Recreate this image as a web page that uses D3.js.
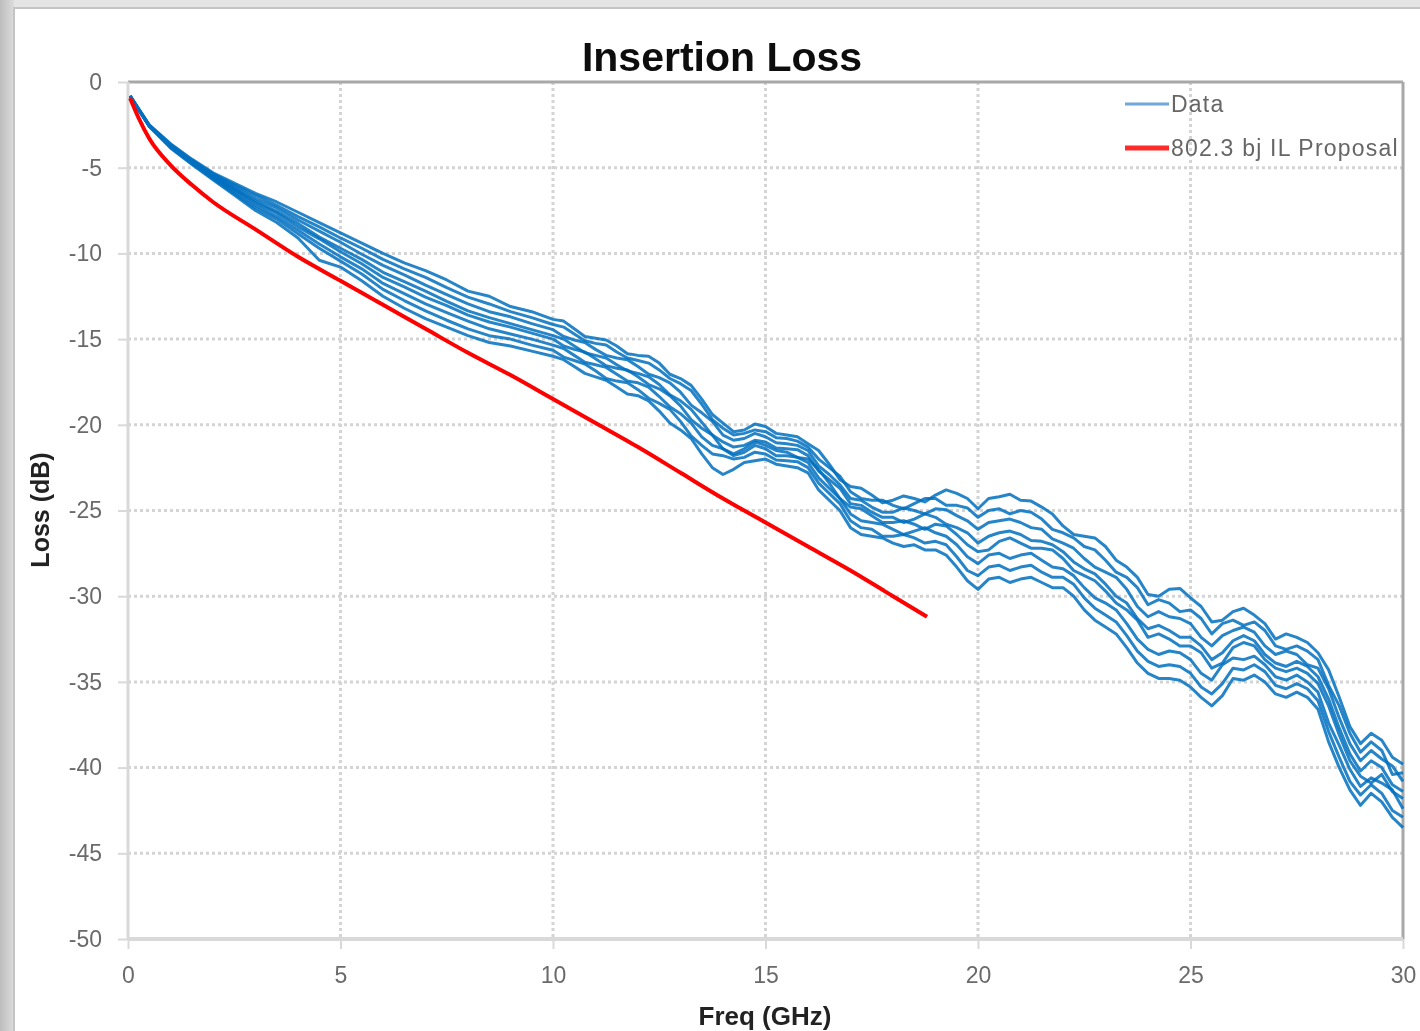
<!DOCTYPE html>
<html><head><meta charset="utf-8">
<script src="https://cdn.jsdelivr.net/npm/d3@7"></script>
<style>
html,body{margin:0;padding:0;background:#d6d6d6;overflow:hidden}
svg{display:block}
</style></head><body>
<svg id="c" width="1420" height="1031"></svg>
<script>
// ---- data ----
const xTicks = [0, 5, 10, 15, 20, 25, 30];
const yTicks = [0, -5, -10, -15, -20, -25, -30, -35, -40, -45, -50];
const seriesNames = ["Data", "802.3 bj IL Proposal"];

const freq = [0.05,0.5,1,1.5,2,2.5,3,3.5,4,4.5,5,5.5,6,6.5,7,7.5,8,8.5,9,9.5,10,
  10.25,10.5,10.75,11,11.25,11.5,11.75,12,12.25,12.5,12.75,13,13.25,13.5,13.75,14,14.25,14.5,14.75,15,
  15.25,15.5,15.75,16,16.25,16.5,16.75,17,17.25,17.5,17.75,18,18.25,18.5,18.75,19,19.25,19.5,19.75,20,
  20.25,20.5,20.75,21,21.25,21.5,21.75,22,22.25,22.5,22.75,23,23.25,23.5,23.75,24,24.25,24.5,24.75,25,
  25.25,25.5,25.75,26,26.25,26.5,26.75,27,27.25,27.5,27.75,28,28.25,28.5,28.75,29,29.25,29.5,29.75,30];

const dataA = [-0.80,-2.50,-3.60,-4.50,-5.30,-5.90,-6.50,-7.00,-7.60,-8.20,-8.80,-9.40,-10.00,-10.55,-11.00,-11.55,-12.20,-12.50,-13.10,-13.40,-13.85,
  -13.95,-14.40,-14.85,-14.95,-15.05,-15.40,-15.85,-15.95,-16.00,-16.40,-17.05,-17.30,-17.70,-18.50,-19.40,-19.90,-20.40,-20.30,-19.95,-20.10,
  -20.50,-20.60,-20.70,-21.10,-21.50,-22.30,-23.20,-23.60,-23.70,-24.10,-24.55,-24.40,-24.15,-24.30,-24.50,-24.10,-23.80,-24.00,-24.30,-24.90,
  -24.30,-24.20,-24.05,-24.40,-24.45,-24.80,-25.20,-25.90,-26.40,-26.50,-26.60,-27.10,-27.90,-28.30,-28.90,-29.90,-30.00,-29.60,-29.55,-30.10,
  -30.60,-31.50,-31.40,-30.90,-30.70,-31.10,-31.60,-32.50,-32.20,-32.40,-32.70,-33.30,-34.30,-35.90,-37.60,-38.60,-38.00,-38.40,-39.40,-39.80];
const dataB = [-0.80,-2.52,-3.64,-4.55,-5.36,-6.00,-6.62,-7.20,-7.85,-8.45,-9.10,-9.70,-10.35,-10.90,-11.40,-12.00,-12.55,-12.95,-13.40,-13.75,-14.15,
  -14.30,-14.70,-15.10,-15.25,-15.35,-15.75,-16.10,-16.25,-16.40,-16.80,-17.30,-17.60,-18.00,-18.80,-19.70,-20.20,-20.60,-20.50,-20.30,-20.40,
  -20.75,-20.80,-20.95,-21.30,-22.00,-22.50,-23.00,-23.90,-24.30,-24.40,-24.40,-24.70,-24.90,-24.60,-24.30,-24.30,-24.70,-24.70,-24.85,-25.40,
  -25.00,-24.90,-25.20,-25.00,-25.10,-25.50,-26.10,-26.30,-26.60,-27.10,-27.30,-27.90,-28.60,-28.90,-29.50,-30.50,-30.20,-30.40,-30.90,-30.80,
  -31.30,-32.20,-31.60,-31.40,-31.70,-31.50,-32.00,-32.90,-33.10,-32.90,-33.20,-33.70,-35.20,-36.40,-38.00,-39.10,-38.50,-39.00,-40.40,-40.30];
const dataC = [-0.82,-2.53,-3.68,-4.59,-5.42,-6.11,-6.80,-7.35,-8.05,-8.70,-9.35,-10.05,-10.70,-11.25,-11.85,-12.40,-12.95,-13.40,-13.70,-14.10,-14.45,
  -14.85,-15.05,-15.20,-15.60,-15.95,-16.10,-16.20,-16.60,-17.05,-17.25,-17.55,-18.10,-18.85,-19.30,-19.80,-20.60,-20.90,-20.80,-20.50,-20.70,
  -21.05,-21.10,-21.20,-21.50,-22.40,-22.90,-23.50,-24.30,-24.40,-24.80,-25.10,-25.10,-24.85,-25.00,-25.20,-24.90,-24.95,-25.30,-25.60,-26.10,
  -25.70,-25.60,-25.50,-25.70,-26.00,-26.10,-26.65,-26.90,-27.20,-27.80,-28.30,-28.60,-28.90,-29.60,-30.60,-31.20,-30.90,-31.20,-31.30,-31.60,
  -32.40,-32.90,-32.30,-32.00,-31.80,-32.10,-32.90,-33.40,-33.20,-33.40,-34.00,-34.20,-35.40,-37.10,-38.60,-39.60,-39.00,-39.50,-39.90,-40.80];
const dataD = [-0.82,-2.55,-3.71,-4.64,-5.48,-6.22,-6.95,-7.55,-8.25,-9.05,-9.70,-10.35,-11.10,-11.65,-12.20,-12.80,-13.35,-13.75,-14.10,-14.45,-14.80,
  -15.00,-15.40,-15.80,-15.95,-16.10,-16.50,-16.85,-17.00,-17.20,-17.65,-18.25,-18.60,-19.10,-19.85,-20.60,-21.00,-21.30,-21.20,-20.90,-21.00,
  -21.35,-21.40,-21.45,-21.80,-22.70,-23.20,-23.70,-24.60,-24.70,-25.10,-25.40,-25.40,-25.70,-25.50,-25.20,-25.40,-25.80,-26.00,-26.30,-26.90,
  -26.50,-26.30,-26.20,-26.40,-26.75,-26.80,-27.00,-27.40,-28.00,-28.40,-28.70,-29.30,-30.00,-30.40,-31.30,-31.90,-31.70,-32.00,-32.40,-32.40,
  -32.90,-33.70,-33.30,-32.60,-32.30,-32.60,-33.40,-33.90,-34.10,-33.80,-34.10,-34.70,-36.00,-37.70,-39.20,-40.20,-39.60,-40.00,-41.00,-41.40];
const dataE = [-0.83,-2.56,-3.74,-4.67,-5.52,-6.28,-7.05,-7.65,-8.45,-9.15,-9.90,-10.60,-11.40,-11.95,-12.55,-13.05,-13.60,-14.00,-14.30,-14.65,-15.00,
  -15.40,-15.60,-15.75,-16.15,-16.55,-16.70,-16.80,-17.20,-17.65,-17.90,-18.30,-18.90,-19.70,-20.20,-20.60,-21.40,-21.70,-21.40,-21.00,-21.20,
  -21.50,-21.60,-21.90,-22.00,-22.60,-23.40,-24.30,-24.80,-24.90,-25.30,-25.70,-25.70,-25.60,-25.80,-26.10,-25.80,-25.90,-26.40,-27.00,-27.40,
  -27.30,-26.80,-26.60,-26.90,-27.20,-27.20,-27.30,-27.80,-28.50,-28.80,-29.10,-29.70,-30.40,-30.80,-31.40,-32.40,-32.20,-32.50,-32.90,-32.90,
  -33.30,-34.20,-33.90,-33.00,-32.70,-32.90,-33.70,-34.20,-34.40,-34.20,-34.50,-35.10,-36.40,-38.10,-39.60,-40.50,-40.90,-40.40,-41.40,-41.80];
const dataF = [-0.83,-2.57,-3.78,-4.71,-5.58,-6.39,-7.20,-7.85,-8.65,-9.45,-10.20,-10.90,-11.75,-12.35,-12.95,-13.45,-13.95,-14.40,-14.70,-15.00,-15.35,
  -15.55,-15.95,-16.35,-16.50,-16.65,-17.05,-17.45,-17.55,-17.80,-18.35,-18.95,-19.35,-19.90,-20.70,-21.20,-21.40,-21.80,-21.60,-21.20,-21.40,
  -21.80,-21.80,-21.90,-22.20,-23.10,-23.70,-24.30,-25.20,-25.60,-25.70,-25.80,-26.10,-26.40,-26.20,-26.00,-26.30,-26.50,-27.00,-27.70,-28.10,
  -27.60,-27.50,-27.80,-27.60,-27.50,-27.90,-28.30,-28.40,-28.80,-29.50,-30.10,-30.40,-30.80,-31.60,-32.50,-33.10,-33.40,-33.20,-33.30,-33.70,
  -34.50,-34.90,-34.00,-33.60,-33.70,-33.50,-34.00,-34.70,-34.90,-34.60,-35.00,-35.60,-37.40,-38.70,-40.10,-41.10,-40.60,-40.90,-41.30,-42.40];
const dataG = [-0.84,-2.58,-3.81,-4.76,-5.64,-6.50,-7.35,-8.00,-8.85,-9.70,-10.45,-11.20,-12.10,-12.75,-13.35,-13.90,-14.40,-14.80,-15.00,-15.35,-15.65,
  -16.05,-16.25,-16.45,-16.85,-17.30,-17.45,-17.55,-17.95,-18.45,-18.75,-19.10,-19.80,-20.65,-21.20,-21.70,-21.80,-22.00,-21.90,-21.60,-21.70,
  -22.05,-22.10,-22.15,-22.50,-23.40,-24.00,-24.60,-25.60,-26.00,-26.10,-26.50,-26.50,-26.40,-26.60,-26.90,-26.80,-27.00,-27.70,-28.50,-28.80,
  -28.30,-28.20,-28.50,-28.30,-28.20,-28.60,-28.90,-28.90,-29.30,-30.10,-30.70,-31.10,-31.50,-32.30,-33.20,-33.80,-34.10,-34.00,-34.10,-34.50,
  -35.30,-35.70,-35.10,-34.20,-34.30,-34.00,-34.40,-35.20,-35.40,-35.10,-35.40,-36.10,-37.90,-39.40,-40.80,-41.60,-41.00,-41.50,-42.50,-42.90];
const dataH = [-0.85,-2.60,-3.85,-4.80,-5.70,-6.60,-7.50,-8.20,-9.10,-10.40,-10.80,-11.60,-12.50,-13.20,-13.80,-14.30,-14.80,-15.20,-15.40,-15.70,-16.00,
  -16.20,-16.60,-17.00,-17.20,-17.40,-17.80,-18.20,-18.30,-18.60,-19.20,-19.90,-20.30,-20.80,-21.70,-22.50,-22.90,-22.60,-22.20,-22.10,-22.00,
  -22.30,-22.40,-22.50,-22.80,-23.80,-24.40,-25.00,-26.00,-26.40,-26.50,-26.60,-26.90,-27.10,-27.00,-27.30,-27.30,-27.60,-28.30,-29.10,-29.60,
  -29.00,-28.90,-29.20,-29.00,-28.90,-29.20,-29.50,-29.50,-30.00,-30.80,-31.40,-31.80,-32.20,-33.00,-33.90,-34.50,-34.80,-34.80,-34.90,-35.30,
  -35.90,-36.40,-35.80,-34.80,-34.90,-34.60,-35.00,-35.70,-35.90,-35.60,-35.90,-36.60,-38.50,-40.00,-41.30,-42.20,-41.50,-42.00,-42.90,-43.50];

const propFreq = [0.05,0.25,0.5,1,1.5,2,3,4,5,6,7,8,9,10,11,12,13,14,15,16,17,18,18.8];
const propLoss = [-0.95,-2.1,-3.3,-4.85,-6.0,-7.0,-8.6,-10.2,-11.6,-13.0,-14.4,-15.8,-17.1,-18.5,-19.9,-21.3,-22.8,-24.3,-25.7,-27.1,-28.5,-30.0,-31.2];

const dataTraces = [dataA, dataB, dataC, dataD, dataE, dataF, dataG, dataH];

// ---- drawing ----
const svg = d3.select("#c");
const defs = svg.append("defs");
defs.append("filter").attr("id","soft").attr("x","-5%").attr("y","-5%").attr("width","110%").attr("height","110%")
  .append("feGaussianBlur").attr("stdDeviation", 0.55);
const lg = defs.append("linearGradient").attr("id","edge").attr("x1","0").attr("x2","1");
lg.append("stop").attr("offset","0").attr("stop-color","#bdbdbd");
lg.append("stop").attr("offset","1").attr("stop-color","#dcdcdc");

svg.append("rect").attr("x",0).attr("y",0).attr("width",1420).attr("height",1031).attr("fill","#e4e4e4");
svg.append("rect").attr("x",0).attr("y",0).attr("width",14).attr("height",1031).attr("fill","url(#edge)");
svg.append("rect").attr("x",14).attr("y",8).attr("width",1420).attr("height",1040)
  .attr("fill","#ffffff").attr("stroke","#c4c4c4").attr("stroke-width",2);

const g = svg.append("g").attr("filter","url(#soft)");

const x = d3.scaleLinear().domain([0, 30]).range([128, 1403]);
const y = d3.scaleLinear().domain([-50, 0]).range([939, 82]);

// grid
g.append("g").selectAll("line").data(yTicks.filter(d => d > -50 && d < 0)).join("line")
  .attr("x1", x(0)).attr("x2", x(30)).attr("y1", d => y(d)).attr("y2", d => y(d))
  .attr("stroke", "#d4d4d4").attr("stroke-width", 3).attr("stroke-dasharray", "3,3");
g.append("g").selectAll("line").data(xTicks.filter(d => d > 0 && d < 30)).join("line")
  .attr("y1", y(0)).attr("y2", y(-50)).attr("x1", d => x(d)).attr("x2", d => x(d))
  .attr("stroke", "#d4d4d4").attr("stroke-width", 3).attr("stroke-dasharray", "3,3");

// axes
const yAxis = d3.axisLeft(y).tickValues(yTicks).tickFormat(d => String(d)).tickSize(10).tickPadding(16);
const xAxis = d3.axisBottom(x).tickValues(xTicks).tickFormat(d => String(d)).tickSize(10).tickPadding(18);
const ya = g.append("g").attr("transform", `translate(${x(0)},0)`).call(yAxis);
const xa = g.append("g").attr("transform", `translate(0,${y(-50)})`).call(xAxis);
[ya, xa].forEach(a => {
  a.select(".domain").remove();
  a.selectAll(".tick line").attr("stroke", "#d9d9d9").attr("stroke-width", 2);
  a.selectAll(".tick text").attr("fill", "#6a6a6a").attr("font-family", "Liberation Sans, Arial, sans-serif").attr("font-size", 23);
});

// frame lines
g.append("line").attr("x1", x(0)).attr("x2", x(30)).attr("y1", y(0)).attr("y2", y(0)).attr("stroke", "#a8a8a8").attr("stroke-width", 3);
g.append("line").attr("x1", x(30)).attr("x2", x(30)).attr("y1", y(0)).attr("y2", y(-50)).attr("stroke", "#a8a8a8").attr("stroke-width", 3);
g.append("line").attr("x1", x(0)).attr("x2", x(0)).attr("y1", y(0)).attr("y2", y(-50)).attr("stroke", "#d9d9d9").attr("stroke-width", 3);
g.append("line").attr("x1", x(0)).attr("x2", x(30)).attr("y1", y(-50)).attr("y2", y(-50)).attr("stroke", "#d9d9d9").attr("stroke-width", 4);

// data
const line = d3.line().x(d => x(d[0])).y(d => y(d[1])).curve(d3.curveLinear);
g.append("g").selectAll("path").data(dataTraces).join("path")
  .attr("d", tr => line(freq.map((f, i) => [f, tr[i]])))
  .attr("fill", "none").attr("stroke", "#0070c0").attr("stroke-width", 3).attr("stroke-opacity", 0.85)
  .attr("stroke-linejoin", "round");
g.append("path").attr("d", d3.line().x(d => x(d[0])).y(d => y(d[1])).curve(d3.curveMonotoneX)(propFreq.map((f, i) => [f, propLoss[i]])))
  .attr("fill", "none").attr("stroke", "#ff0000").attr("stroke-width", 4);

// legend
const leg = g.append("g");
const legColors = ["#6fa8dc", "#ff2b2b"];
const legW = [3, 5];
seriesNames.forEach((n, i) => {
  const ly = 104 + i * 44;
  leg.append("line").attr("x1", 1125).attr("x2", 1169).attr("y1", ly).attr("y2", ly).attr("stroke", legColors[i]).attr("stroke-width", legW[i]);
  leg.append("text").attr("x", 1171).attr("y", ly).attr("dy", "0.35em").text(n)
    .attr("fill", "#666").attr("font-family", "Liberation Sans, Arial, sans-serif").attr("font-size", 23).attr("letter-spacing", 1.2);
});

// titles
g.append("text").attr("x", 722).attr("y", 71).attr("text-anchor", "middle").text("Insertion Loss")
  .attr("font-family", "Liberation Sans, Arial, sans-serif").attr("font-weight", "bold").attr("font-size", 41).attr("fill", "#111");
g.append("text").attr("transform", "translate(49,510) rotate(-90)").attr("text-anchor", "middle").text("Loss (dB)")
  .attr("font-family", "Liberation Sans, Arial, sans-serif").attr("font-weight", "bold").attr("font-size", 25).attr("fill", "#222");
g.append("text").attr("x", 765).attr("y", 1025).attr("text-anchor", "middle").text("Freq (GHz)")
  .attr("font-family", "Liberation Sans, Arial, sans-serif").attr("font-weight", "bold").attr("font-size", 26).attr("fill", "#222");
</script></body></html>
